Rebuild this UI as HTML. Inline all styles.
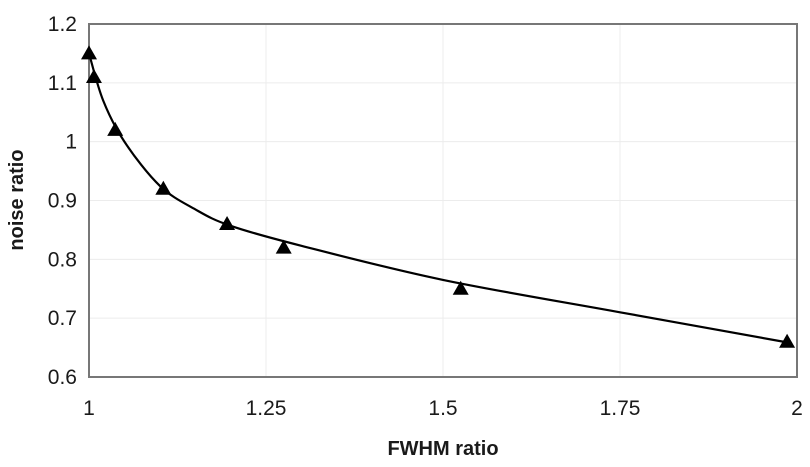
<!DOCTYPE html>
<html><head><meta charset="utf-8"><style>
body{margin:0;background:#fff;}
svg text{font-family:"Liberation Sans",Arial,sans-serif;fill:#1a1a1a;}
</style></head><body>
<svg id="chart" width="810" height="462" viewBox="0 0 810 462"></svg>
<script>
const xTicks=[1,1.25,1.5,1.75,2];
const xTickLabels=["1","1.25","1.5","1.75","2"];
const yTicks=[0.6,0.7,0.8,0.9,1,1.1,1.2];
const yTickLabels=["0.6","0.7","0.8","0.9","1","1.1","1.2"];
const fwhm=[1,1.007,1.037,1.105,1.195,1.275,1.525,1.986];
const noise=[1.15,1.11,1.02,0.92,0.86,0.82,0.75,0.66];
const fitX=[1,1.02,1.05,1.1,1.15,1.2,1.3,1.5,1.75,1.99];
const fitY=[1.15,1.07,1.0,0.925,0.885,0.857,0.823,0.765,0.71,0.658];

const L=89,R=797,T=24,B=377;
const xs=v=>L+(v-1)/(2-1)*(R-L);
const ys=v=>B-(v-0.6)/(1.2-0.6)*(B-T);
const svg=document.getElementById('chart');
const NS='http://www.w3.org/2000/svg';
function mk(tag,attrs){const e=document.createElementNS(NS,tag);for(const k in attrs)e.setAttribute(k,attrs[k]);svg.appendChild(e);return e;}

yTicks.forEach((t,i)=>{
  const g=mk('line',{x1:L,x2:R,y1:ys(t),y2:ys(t),stroke:'#ececec','stroke-width':1});
  
  
  const tx=mk('text',{x:L-12,y:ys(t)+7,'text-anchor':'end','font-size':21});
  tx.textContent=yTickLabels[i];
  
  
});
xTicks.forEach((t,i)=>{
  const g=mk('line',{x1:xs(t),x2:xs(t),y1:T,y2:B,stroke:'#ececec','stroke-width':1});
  
  
  const tx=mk('text',{x:xs(t),y:B+38,'text-anchor':'middle','font-size':21});
  tx.textContent=xTickLabels[i];
  
  
});
const frame=mk('rect',{x:L,y:T,width:R-L,height:B-T,fill:'none',stroke:'#777','stroke-width':2});



const P=fitX.map((x,i)=>[xs(x),ys(fitY[i])]);
let d='M'+P[0][0]+','+P[0][1];
for(let i=0;i<P.length-1;i++){
  const p0=P[Math.max(0,i-1)],p1=P[i],p2=P[i+1],p3=P[Math.min(P.length-1,i+2)];
  const c1=[p1[0]+(p2[0]-p0[0])/6,p1[1]+(p2[1]-p0[1])/6];
  const c2=[p2[0]-(p3[0]-p1[0])/6,p2[1]-(p3[1]-p1[1])/6];
  d+=' C'+c1[0]+','+c1[1]+' '+c2[0]+','+c2[1]+' '+p2[0]+','+p2[1];
}
const curve=mk('path',{d:d,fill:'none',stroke:'#000','stroke-width':2.2});



fwhm.forEach((x,i)=>{
  const cx=xs(x),cy=ys(noise[i]);
  const tri=mk('polygon',{points:`${cx},${cy-8} ${cx-8},${cy+6} ${cx+8},${cy+6}`,fill:'#000'});
  
  
});

const xt=mk('text',{x:443,y:455,'text-anchor':'middle','font-size':20,'font-weight':'bold'});
xt.textContent='FWHM ratio';


const yt=mk('text',{x:0,y:0,'text-anchor':'middle','font-size':20,'font-weight':'bold',transform:'translate(23,200) rotate(-90)'});
yt.textContent='noise ratio';


</script>
</body></html>
